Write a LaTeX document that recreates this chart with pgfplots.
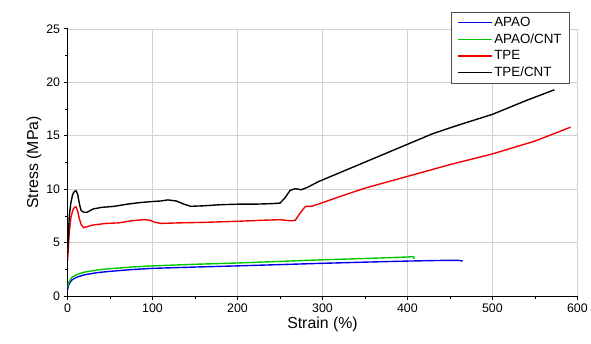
\documentclass[border=0pt]{standalone}
\usepackage{pgfplots}
\pgfplotsset{compat=1.18}
\usepackage{fontspec}
\setmainfont{Liberation Sans}
\definecolor{myblue}{RGB}{0,0,230}
\definecolor{mygreen}{RGB}{0,200,0}
\definecolor{myred}{RGB}{240,0,0}
\begin{document}
\begin{tikzpicture}
\begin{axis}[
  scale only axis,
  width=513bp, height=269bp,
  xmin=0, xmax=600, ymin=0, ymax=25,
  xtick={0,100,...,600}, ytick={0,5,...,25},
  minor x tick num=1, minor y tick num=1,
  axis x line*=bottom, axis y line*=left,
  axis line style={black, line width=0.8pt},
  tick align=outside,
  tick style={black, line width=0.7pt},
  major tick length=4bp, minor tick length=2.5bp,
  grid=major,
  major grid style={gray!35, line width=0.5pt},
  /pgf/number format/assume math mode=true,
  tick label style={font=\fontsize{12.5}{14}\selectfont},
  label style={font=\fontsize{16}{18}\selectfont},
  xlabel={Strain (\%)}, ylabel={Stress (MPa)},
  xlabel style={yshift=2bp},
  ylabel style={yshift=-2bp},
  legend style={at={(rel axis cs:0.752,1.063)}, anchor=north west,
    draw=black!70, line width=0.5pt, font=\fontsize{13.5}{15}\selectfont,
    inner xsep=6pt, inner ysep=3pt, row sep=1.8pt, cells={anchor=west}},
  legend image code/.code={\draw[line width=1.4pt,#1] (0cm,0cm) -- (1.2cm,0cm);},
  every axis plot/.append style={line width=1.4pt},
]
\addplot[draw=myblue] coordinates {
(0,0.6) (1,1.0) (3,1.3) (5,1.5) (10,1.75) (20,2.0) (35,2.2) (50,2.32) (75,2.48) (100,2.6)
(150,2.72) (200,2.83) (250,2.95) (300,3.07) (350,3.18) (400,3.28) (440,3.34) (460,3.35) (465,3.28)};
\addlegendentry{APAO}
\addplot[draw=mygreen] coordinates {
(0,0.8) (1,1.2) (3,1.5) (5,1.75) (10,2.0) (20,2.25) (35,2.45) (50,2.57) (75,2.72) (100,2.83)
(150,2.98) (200,3.1) (250,3.25) (300,3.4) (350,3.52) (400,3.66) (407,3.7) (408,3.5)};
\addlegendentry{APAO/CNT}
\addplot[draw=myred] coordinates {
(0,3.3) (2,6.0) (4,7.4) (6,8.0) (8,8.3) (10,8.35) (12,7.9) (14,7.2) (16,6.7) (19,6.4) (23,6.5)
(30,6.65) (45,6.8) (60,6.85) (75,7.05) (90,7.15) (97,7.1) (103,6.9) (110,6.8) (130,6.85) (160,6.9)
(200,7.0) (230,7.1) (250,7.15) (262,7.05) (268,7.1) (274,7.8) (280,8.4) (287,8.4) (295,8.6)
(320,9.3) (350,10.1) (400,11.2) (450,12.3) (500,13.3) (550,14.5) (592,15.8)};
\addlegendentry{TPE}
\addplot[draw=black] coordinates {
(0,4.0) (2,7.5) (4,8.8) (6,9.5) (8,9.8) (10,9.85) (12,9.5) (14,8.6) (16,8.0) (19,7.85) (23,7.85)
(30,8.15) (40,8.3) (55,8.4) (70,8.6) (85,8.75) (100,8.85) (110,8.9) (118,9.0) (128,8.9) (137,8.6)
(145,8.4) (160,8.45) (180,8.55) (200,8.6) (220,8.6) (240,8.65) (250,8.7) (256,9.2) (262,9.9)
(268,10.05) (275,9.95) (283,10.2) (295,10.7) (310,11.2) (340,12.2) (370,13.2) (400,14.2)
(430,15.2) (460,16.0) (500,17.0) (540,18.3) (573,19.3)};
\addlegendentry{TPE/CNT}
\end{axis}
\path ([shift={(-68bp,-48bp)}]current axis.south west) rectangle ([shift={(10bp,29bp)}]current axis.north east);
\end{tikzpicture}
\end{document}
